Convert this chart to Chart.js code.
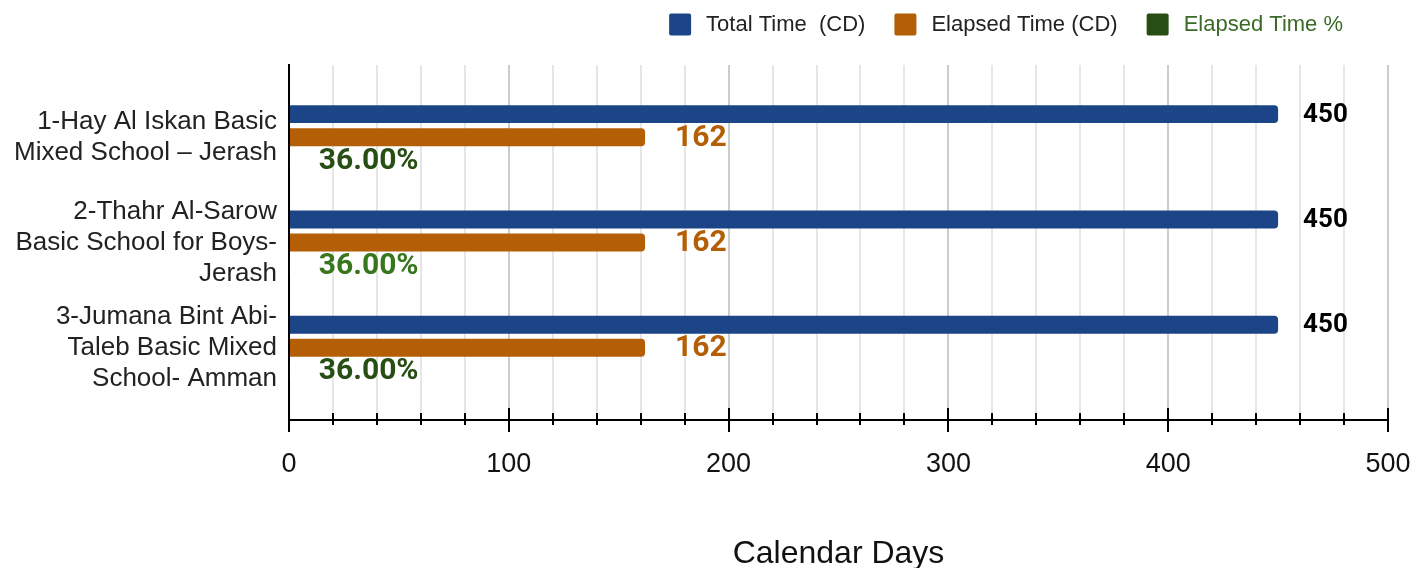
<!DOCTYPE html>
<html>
<head>
<meta charset="utf-8">
<script src="https://cdn.jsdelivr.net/npm/chart.js@4.4.1/dist/chart.umd.min.js"></script>
<style>
  html, body { margin: 0; padding: 0; background: #fff; }
  #wrap { width: 1416px; height: 568px; position: relative; }
</style>
</head>
<body>
<div id="wrap"><canvas id="myChart"></canvas></div>
<script>
const schools = [
    ['1-Hay Al Iskan Basic', 'Mixed School \u2013 Jerash'],
    ['2-Thahr Al-Sarow', 'Basic School for Boys-', 'Jerash'],
    ['3-Jumana Bint Abi-', 'Taleb Basic Mixed', 'School- Amman']
];
const totalTime = [450, 450, 450];
const elapsedTime = [162, 162, 162];
const elapsedPct = [0.36, 0.36, 0.36];
const xTicks = [0, 100, 200, 300, 400, 500];

const blue = '#1c4587';
const orange = '#b45f06';
const darkGreen = '#274e13';
const green = '#38761d';

function toPoints(values) {
    return values.map((v, i) => ({ x: v, y: i }));
}

// value labels right of each bar end
const barLabels = {
    id: 'barLabels',
    afterDatasetsDraw(chart) {
        const ctx = chart.ctx;
        chart.data.datasets.forEach((ds, i) => {
            const meta = chart.getDatasetMeta(i);
            meta.data.forEach((bar, j) => {
                ctx.save();
                ctx.font = ds.labelFont;
                ctx.fillStyle = Array.isArray(ds.labelColor) ? ds.labelColor[j] : ds.labelColor;
                ctx.textAlign = 'left';
                ctx.textBaseline = 'middle';
                ctx.fillText(ds.format(ds.data[j].x), bar.x + ds.labelOffset, bar.y + 1);
                ctx.restore();
            });
        });
    }
};

// tick marks crossing the x axis
const axisTicks = {
    id: 'axisTicks',
    afterDraw(chart) {
        const ctx = chart.ctx;
        const scale = chart.scales.x;
        const y = chart.chartArea.bottom;
        ctx.save();
        ctx.strokeStyle = '#000';
        ctx.lineWidth = 2;
        scale.ticks.forEach(t => {
            const x = Math.round(scale.getPixelForValue(t.value));
            const major = xTicks.includes(t.value);
            ctx.beginPath();
            ctx.moveTo(x, y - (major ? 12 : 7));
            ctx.lineTo(x, y + (major ? 12 : 5));
            ctx.stroke();
        });
        ctx.restore();
    }
};

// legend at the top right
const topLegend = {
    id: 'topLegend',
    afterDraw(chart) {
        const ctx = chart.ctx;
        ctx.save();
        ctx.font = '22px "Liberation Sans", Arial, sans-serif';
        ctx.textBaseline = 'middle';
        let x = chart.chartArea.right - 45;
        const y = 24.5;
        chart.data.datasets.slice().reverse().forEach(ds => {
            const w = ctx.measureText(ds.label).width;
            const textX = x - w;
            const boxX = textX - 15 - 22;
            ctx.fillStyle = ds.legendTextColor;
            ctx.fillText(ds.label, textX, y);
            ctx.fillStyle = ds.backgroundColor;
            ctx.beginPath();
            ctx.roundRect(boxX, y - 11, 22, 22, 2);
            ctx.fill();
            x = boxX - 29;
        });
        ctx.restore();
    }
};

const ctx = document.getElementById('myChart').getContext('2d');
const chart1 = new Chart(ctx, {
    type: 'bar',
    data: {
        datasets: [{
            label: 'Total Time  (CD)',
            data: toPoints(totalTime),
            backgroundColor: blue,
            legendTextColor: '#222',
            labelColor: '#000',
            labelFont: 'bold 26px Roboto, sans-serif',
            labelOffset: 25,
            format: v => String(v)
        }, {
            label: 'Elapsed Time (CD)',
            data: toPoints(elapsedTime),
            backgroundColor: orange,
            legendTextColor: '#222',
            labelColor: orange,
            labelFont: 'bold 30px Roboto, sans-serif',
            labelOffset: 30,
            format: v => String(v)
        }, {
            label: 'Elapsed Time %',
            data: toPoints(elapsedPct),
            backgroundColor: darkGreen,
            legendTextColor: '#3a6a26',
            labelColor: [darkGreen, green, darkGreen],
            labelFont: 'bold 30px Roboto, sans-serif',
            labelOffset: 29,
            format: v => (v * 100).toFixed(2) + '%'
        }]
    },
    options: {
        indexAxis: 'y',
        responsive: true,
        maintainAspectRatio: false,
        animation: false,
        layout: { padding: { top: 65, right: 28, left: 0, bottom: 0 } },
        datasets: {
            bar: {
                categoryPercentage: 0.656,
                barPercentage: 0.78,
                borderRadius: 4,
                borderSkipped: 'start'
            }
        },
        plugins: {
            legend: { display: false },
            tooltip: { enabled: false }
        },
        scales: {
            x: {
                type: 'linear',
                min: 0,
                max: 500,
                afterFit: s => {
                    s.height = 148;
                    s.paddingLeft = 0;
                    s.paddingRight = 0;
                },
                ticks: {
                    stepSize: 20,
                    autoSkip: false,
                    maxRotation: 0,
                    padding: 28,
                    color: '#111',
                    font: { family: '"Liberation Sans", Arial, sans-serif', size: 27 },
                    callback: v => xTicks.includes(v) ? v : ''
                },
                grid: {
                    drawTicks: false,
                    lineWidth: 2,
                    color: c => (c.tick && xTicks.includes(c.tick.value)) ? '#cccccc' : '#e6e6e6'
                },
                border: { color: '#000', width: 2 },
                title: {
                    display: true,
                    text: 'Calendar Days',
                    color: '#111',
                    font: { family: '"Liberation Sans", Arial, sans-serif', size: 32, lineHeight: 1 },
                    padding: { top: 0, bottom: -2 }
                }
            },
            y: {
                type: 'linear',
                reverse: true,
                offset: false,
                min: -0.685,
                max: 2.685,
                afterFit: s => { s.width = 289; },
                afterBuildTicks: s => { s.ticks = schools.map((c, i) => ({ value: i })); },
                ticks: {
                    autoSkip: false,
                    padding: 12,
                    color: '#222',
                    font: { family: '"Liberation Sans", Arial, sans-serif', size: 26, lineHeight: 1.19 },
                    callback: v => schools[v]
                },
                grid: { display: false, drawTicks: false },
                border: { color: '#000', width: 2 }
            }
        }
    },
    plugins: [barLabels, axisTicks, topLegend]
});
</script>
</body>
</html>
